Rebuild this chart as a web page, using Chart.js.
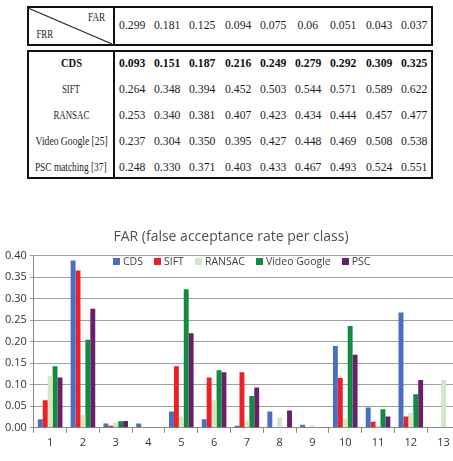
<!DOCTYPE html>
<html>
<head>
<meta charset="utf-8">
<script src="https://cdn.jsdelivr.net/npm/chart.js@4.4.0/dist/chart.umd.min.js"></script>
<style>
  html, body { margin:0; padding:0; background:#fff; overflow:hidden; width:453px; height:461px; }
  #page { position:relative; width:453px; height:461px; overflow:hidden; }
  .box { position:absolute; border:2px solid #111; box-sizing:border-box; }
  .sep { position:absolute; width:2px; background:#111; }
  .cell { position:absolute; font-family:"Liberation Serif","DejaVu Serif",serif; font-size:13.5px; color:#1e1e1e;
          white-space:nowrap; line-height:1; }
  .bold { font-weight:bold; color:#111; }
  #chartWrap { position:absolute; left:0; top:226px; width:466px; height:235px; }
  #legend { position:absolute; top:256px; left:113px; display:flex; align-items:center;
            font-family:"Open Sans",sans-serif; font-size:10.5px; color:#404040; line-height:1; }
  #legend .it { display:flex; align-items:center; margin-right:11px; }
  #legend .sw { width:7px; height:7px; margin-right:3px; }
</style>
</head>
<body>
<div id="page">
  <div class="box" style="left:27px;top:6px;width:406px;height:40px;"></div>
  <div class="sep" style="left:113px;top:6px;height:40px;"></div>
  <svg style="position:absolute;left:0;top:0;" width="453" height="60">
    <line x1="28" y1="8" x2="112" y2="44" stroke="#222" stroke-width="1.2"/>
  </svg>
  <div class="box" style="left:27px;top:50px;width:406px;height:129px;"></div>
  <div class="sep" style="left:113px;top:50px;height:129px;"></div>
  <div id="tbl"></div>
  <div id="chartWrap"><canvas id="c"></canvas></div>
  <div id="legend"></div>
</div>
<script>
// ---- table data ----
const farHeader = ["0.299","0.181","0.125","0.094","0.075","0.06","0.051","0.043","0.037"];
const rowLabels = ["CDS","SIFT","RANSAC","Video Google [25]","PSC matching [37]"];
const rowCDS     = ["0.093","0.151","0.187","0.216","0.249","0.279","0.292","0.309","0.325"];
const rowSIFT    = ["0.264","0.348","0.394","0.452","0.503","0.544","0.571","0.589","0.622"];
const rowRANSAC  = ["0.253","0.340","0.381","0.407","0.423","0.434","0.444","0.457","0.477"];
const rowVG      = ["0.237","0.304","0.350","0.395","0.427","0.448","0.469","0.508","0.538"];
const rowPSC     = ["0.248","0.330","0.371","0.403","0.433","0.467","0.493","0.524","0.551"];

// ---- chart data ----
const classes = ["1","2","3","4","5","6","7","8","9","10","11","12","13"];
const cdsFar    = [0.020,0.389,0.010,0.010,0.038,0.020,0.005,0.038,0.007,0.190,0.047,0.268,0];
const siftFar   = [0.064,0.366,0.005,0,    0.143,0.117,0.129,0,    0,    0.116,0.014,0.026,0];
const ransacFar = [0.120,0.030,0.012,0,    0.026,0.064,0.015,0.024,0.006,0.022,0.005,0.035,0.111];
const vgFar     = [0.143,0.205,0.015,0,    0.322,0.134,0.074,0,    0,    0.237,0.043,0.078,0];
const pscFar    = [0.117,0.277,0.016,0,    0.220,0.129,0.094,0.040,0,    0.170,0.026,0.111,0];
const seriesNames = ["CDS","SIFT","RANSAC","Video Google","PSC"];
const seriesColors = ["#4a6fc2","#ec2027","#d3e7c4","#138a40","#6a1f6d"];

// ---- build table ----
const tbl = document.getElementById('tbl');
let valueScale = 1;
function addCell(text, x, y, cls, targetW) {
  const d = document.createElement('div');
  d.className = 'cell' + (cls ? ' ' + cls : '');
  d.textContent = text;
  tbl.appendChild(d);
  const w = d.offsetWidth, h = d.offsetHeight;
  const s = targetW ? targetW / w : valueScale;
  d.style.left = (x - w/2) + 'px';
  d.style.top = (y - h/2) + 'px';
  d.style.transform = 'scaleX(' + s + ')';
  d.style.transformOrigin = '50% 50%';
}
(function(){
  const m = document.createElement('div'); m.className = 'cell'; m.textContent = '0.299';
  tbl.appendChild(m); valueScale = 26 / m.offsetWidth; tbl.removeChild(m);
})();
const labelWidths = [21, 18, 36, 72, 72];
const colLeft = 114, colW = 35.3;
addCell("FAR", 96, 17, '', 17);
addCell("FRR", 45, 34, '', 17);
farHeader.forEach((v,i) => addCell(v, colLeft + colW*(i+0.5), 25));
const rows = [rowCDS,rowSIFT,rowRANSAC,rowVG,rowPSC];
rows.forEach((r,ri) => {
  const y = 63 + ri*25.9;
  addCell(rowLabels[ri], 71, y, ri===0 ? 'bold' : '', labelWidths[ri]);
  r.forEach((v,i) => addCell(v, colLeft + colW*(i+0.5), y, ri===0 ? 'bold' : ''));
});

// ---- legend (HTML, overlaid inside the plot like the reference) ----
const lg = document.getElementById('legend');
seriesNames.forEach((n,i) => {
  const it = document.createElement('div'); it.className = 'it';
  const sw = document.createElement('div'); sw.className = 'sw'; sw.style.background = seriesColors[i];
  const tx = document.createElement('span'); tx.textContent = n;
  it.appendChild(sw); it.appendChild(tx); lg.appendChild(it);
});

// ---- chart ----
const allSeries = [cdsFar, siftFar, ransacFar, vgFar, pscFar];
new Chart(document.getElementById('c'), {
  type: 'bar',
  data: {
    labels: classes,
    datasets: allSeries.map((d,i) => ({
      label: seriesNames[i], data: d, backgroundColor: seriesColors[i],
      borderWidth: 0, barPercentage: 1.0, categoryPercentage: 0.75
    }))
  },
  options: {
    responsive: true, maintainAspectRatio: false, animation: false,
    layout: { padding: { left: 2, right: 6, top: 0, bottom: 9 } },
    plugins: {
      title: { display: true, text: 'FAR (false acceptance rate per class)',
               color: '#505050', font: { family: 'Open Sans', size: 14, weight: 'normal' },
               padding: { top: 3, bottom: 10 } },
      legend: { display: false },
      tooltip: { enabled: false }
    },
    scales: {
      x: {
        grid: { display: true, drawOnChartArea: false, tickLength: 5, color: '#888', offset: true },
        border: { color: '#888' },
        ticks: { color: '#333', font: { family: 'Open Sans', size: 11 }, padding: 3 }
      },
      y: {
        min: 0, max: 0.40,
        grid: { color: '#a0a0a0', tickLength: 4 },
        border: { color: '#888' },
        ticks: { stepSize: 0.05, color: '#333', font: { family: 'Open Sans', size: 11 }, padding: 3,
                 callback: v => v.toFixed(2) }
      }
    }
  }
});
</script>
</body>
</html>
